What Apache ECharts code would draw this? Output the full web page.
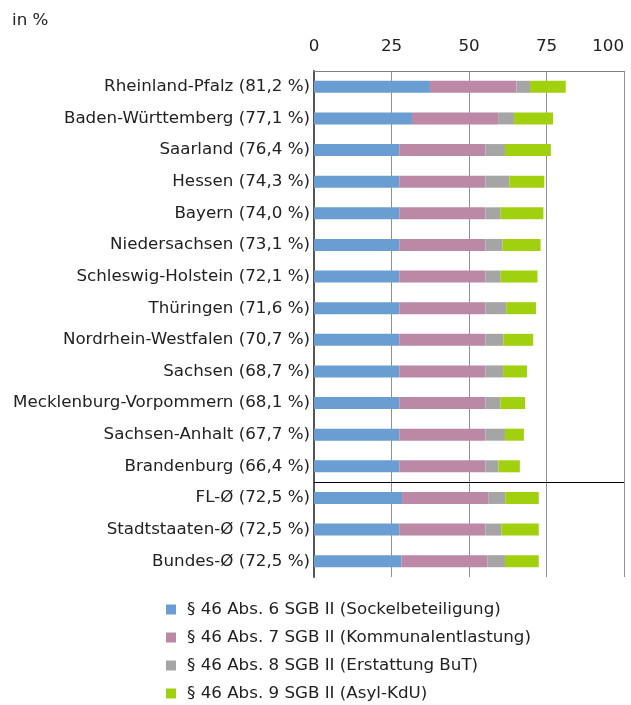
<!DOCTYPE html>
<html><head><meta charset="utf-8">
<script src="https://cdn.jsdelivr.net/npm/echarts@6/dist/echarts.min.js"></script>
<style>html,body{margin:0;padding:0;background:#fff}#c{width:631px;height:705px}</style>
</head><body><div id="c"></div>
<script>
const categories = ["Rheinland-Pfalz (81,2 %)","Baden-Württemberg (77,1 %)","Saarland (76,4 %)","Hessen (74,3 %)","Bayern (74,0 %)","Niedersachsen (73,1 %)","Schleswig-Holstein (72,1 %)","Thüringen (71,6 %)","Nordrhein-Westfalen (70,7 %)","Sachsen (68,7 %)","Mecklenburg-Vorpommern (68,1 %)","Sachsen-Anhalt (67,7 %)","Brandenburg (66,4 %)","FL-Ø (72,5 %)","Stadtstaaten-Ø (72,5 %)","Bundes-Ø (72,5 %)"];
const abs6 = [37.4,31.6,27.5,27.5,27.5,27.5,27.5,27.5,27.5,27.5,27.5,27.5,27.5,28.4,27.5,28.2];
const abs7 = [27.9,27.8,27.8,27.8,27.8,27.8,27.8,27.8,27.8,27.8,27.8,27.8,27.8,27.8,27.8,27.7];
const abs8 = [4.4,5.1,6.3,7.7,4.9,5.5,4.9,6.7,5.8,5.7,4.8,6.3,4.2,5.5,5.1,5.7];
const abs9 = [11.5,12.6,14.8,11.3,13.8,12.3,11.9,9.6,9.6,7.7,8.0,6.1,6.9,10.8,12.1,10.9];
const seriesNames = ["§ 46 Abs. 6 SGB II (Sockelbeteiligung)","§ 46 Abs. 7 SGB II (Kommunalentlastung)","§ 46 Abs. 8 SGB II (Erstattung BuT)","§ 46 Abs. 9 SGB II (Asyl-KdU)"];
const colors = ["#6a9ed2","#bb88a6","#a5a5a5","#a0d00e"];
const xTicks = [0,25,50,75,100];
const separatorAfter = 13; // number of Länder rows before the averages

const font = "'DejaVu Sans', sans-serif";
const fs = 16.7;
const chart = echarts.init(document.getElementById('c'));
const data = [abs6, abs7, abs8, abs9];
const series = data.map((d, k) => ({
  name: seriesNames[k], type: 'bar', stack: 'total', barWidth: 12,
  data: d,
  itemStyle: {color: colors[k]}
}));
series.push({
  name: 'sep', type: 'line', yAxisIndex: 1, data: [], silent: true,
  markLine: {symbol: 'none', silent: true, label: {show: false},
    lineStyle: {color: '#000', width: 1, type: 'solid'},
    data: [{yAxis: separatorAfter}]}
});
chart.setOption({
  animation: false,
  color: colors,
  textStyle: {fontFamily: font},
  title: {text: 'in %', left: 7, top: 7, textStyle: {fontFamily: font, fontSize: fs, fontWeight: 'normal', color: '#222'}},
  grid: {left: 314, right: 7, top: 71, bottom: 128, containLabel: false, outerBoundsMode: 'none'},
  legend: {
    orient: 'vertical', left: 166, top: 601, itemWidth: 10, itemHeight: 10, itemGap: 11,
    height: 104, padding: 0,
    icon: 'rect',
    textStyle: {fontFamily: font, fontSize: fs, lineHeight: 17, color: '#222', padding: [0,0,0,6]},
    data: seriesNames
  },
  xAxis: {
    type: 'value', position: 'top', min: xTicks[0], max: xTicks[xTicks.length-1], interval: 25,
    axisLine: {show: true, lineStyle: {color: '#808080', width: 1}},
    axisTick: {show: false},
    axisLabel: {fontFamily: font, fontSize: fs, color: '#222', margin: 16, alignMaxLabel: 'right'},
    splitLine: {show: true, lineStyle: {color: '#909090', width: 1}}
  },
  yAxis: [{
    type: 'category', inverse: true, data: categories,
    axisLine: {show: true, lineStyle: {color: '#555', width: 2}},
    axisTick: {show: false},
    axisLabel: {fontFamily: font, fontSize: fs, color: '#222', margin: 4},
    splitLine: {show: false}
  }, {
    type: 'value', inverse: true, min: 0, max: categories.length, show: false
  }],
  series: series
});
</script></body></html>
